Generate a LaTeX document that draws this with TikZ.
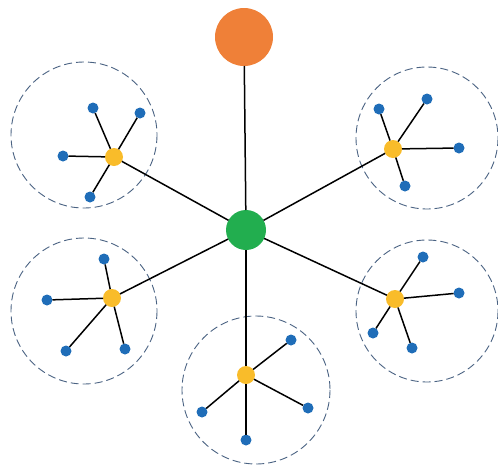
\documentclass[tikz,border=0pt]{standalone}
\definecolor{orangec}{HTML}{EF8038}
\definecolor{greenc}{HTML}{22AE4F}
\definecolor{yellowc}{HTML}{F9BC2A}
\definecolor{bluec}{HTML}{1F6DB8}
\definecolor{dashc}{HTML}{4A6282}
\begin{document}
\begin{tikzpicture}[x=1pt,y=-1pt,
  dot/.style={circle,inner sep=0pt,outer sep=0pt},
  root/.style={dot,fill=orangec,minimum size=58pt},
  hub/.style={dot,fill=greenc,minimum size=40pt},
  sub/.style={dot,fill=yellowc,minimum size=18pt},
  leaf/.style={dot,fill=bluec,minimum size=11pt},
  link/.style={draw=black,line width=1.5pt},
  group/.style={draw=dashc,line width=0.9pt,dash pattern=on 8pt off 4pt}]
\useasboundingbox (0,0) rectangle (498,469);
% groups
\draw[group] (84,135) circle (73);
\draw[group] (427,138) circle (71);
\draw[group] (84,311) circle (73);
\draw[group] (427,311) circle (71);
\draw[group] (256,390) circle (74);
% nodes
\node[root] (o) at (244,37) {};
\node[hub] (g) at (246,230) {};
\node[sub] (y1) at (114,157) {};
\node[sub] (y2) at (393,149) {};
\node[sub] (y3) at (112,298) {};
\node[sub] (y4) at (395,299) {};
\node[sub] (y5) at (246,375) {};
\node[leaf] (a1) at (93,108) {};
\node[leaf] (a2) at (140,113) {};
\node[leaf] (a3) at (63,156) {};
\node[leaf] (a4) at (90,197) {};
\node[leaf] (b1) at (379,109) {};
\node[leaf] (b2) at (427,99) {};
\node[leaf] (b3) at (459,148) {};
\node[leaf] (b4) at (405,186) {};
\node[leaf] (c1) at (104,259) {};
\node[leaf] (c2) at (47,300) {};
\node[leaf] (c3) at (66,351) {};
\node[leaf] (c4) at (125,349) {};
\node[leaf] (d1) at (423,257) {};
\node[leaf] (d2) at (459,293) {};
\node[leaf] (d3) at (373,333) {};
\node[leaf] (d4) at (412,348) {};
\node[leaf] (e1) at (291,340) {};
\node[leaf] (e2) at (308,408) {};
\node[leaf] (e3) at (246,440) {};
\node[leaf] (e4) at (202,412) {};
% links
\draw[link] (g) -- (o);
\foreach \y in {y1,y2,y3,y4,y5} \draw[link] (g) -- (\y);
\foreach \a in {a1,a2,a3,a4} \draw[link] (y1) -- (\a);
\foreach \a in {b1,b2,b3,b4} \draw[link] (y2) -- (\a);
\foreach \a in {c1,c2,c3,c4} \draw[link] (y3) -- (\a);
\foreach \a in {d1,d2,d3,d4} \draw[link] (y4) -- (\a);
\foreach \a in {e1,e2,e3,e4} \draw[link] (y5) -- (\a);
\end{tikzpicture}
\end{document}
